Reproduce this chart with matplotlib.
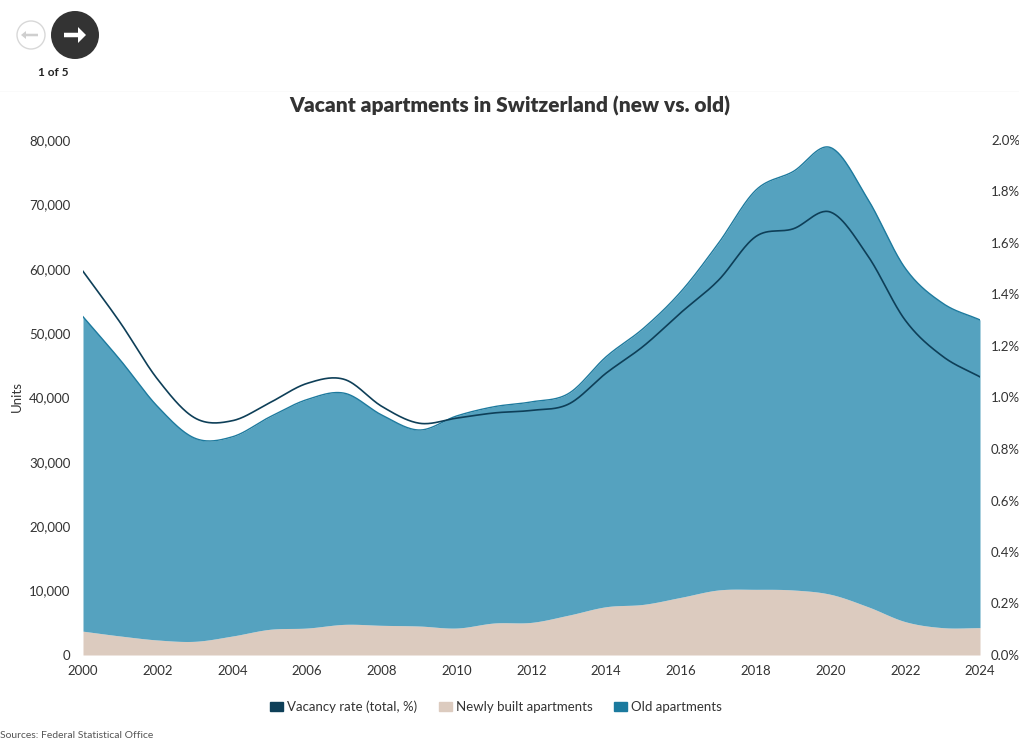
import numpy as np
import matplotlib
matplotlib.use("Agg")
import matplotlib.pyplot as plt
from matplotlib.patches import Circle, FancyArrow, Patch
from matplotlib.ticker import FuncFormatter

plt.rcParams['font.family'] = ['Lato', 'DejaVu Sans']

# Data (yearly values)
years = list(range(2000, 2025))
new_apts = [3700, 2950, 2330, 2130, 2950, 3990, 4190, 4760, 4610, 4500, 4190, 4970, 5070,
            6200, 7500, 7870, 8960, 10100, 10200, 10100, 9430, 7500, 5180, 4250, 4250]
old_apts = [48850, 42850, 36240, 31530, 30950, 33000, 35500, 35900, 32650, 30450, 32950, 33600, 34250,
            34450, 38850, 42900, 47500, 53850, 62000, 65000, 69400, 63300, 54900, 50400, 47800]
vacancy = [1.49, 1.29, 1.07, 0.92, 0.91, 0.98, 1.055, 1.07, 0.965, 0.90, 0.92, 0.94, 0.95,
           0.975, 1.095, 1.20, 1.33, 1.455, 1.625, 1.655, 1.72, 1.55, 1.30, 1.16, 1.08]

c_line = "#0e3f58"
c_new = "#dccbbf"
c_old = "#55a2bf"
c_text = "#333333"


# Catmull-Rom curve through the points, used only for drawing
def smooth(x, y, n=30):
    x = np.asarray(x, float)
    y = np.asarray(y, float)
    h = np.diff(x)
    m = np.zeros_like(y)
    m[1:-1] = (y[2:] - y[:-2]) / (x[2:] - x[:-2])
    m[0] = (y[1] - y[0]) / h[0]
    m[-1] = (y[-1] - y[-2]) / h[-1]
    xs, ys = [], []
    for k in range(len(x) - 1):
        t = np.linspace(0, 1, n, endpoint=False)
        h00 = 2 * t**3 - 3 * t**2 + 1
        h10 = t**3 - 2 * t**2 + t
        h01 = -2 * t**3 + 3 * t**2
        h11 = t**3 - t**2
        xs.append(x[k] + t * h[k])
        ys.append(h00 * y[k] + h10 * h[k] * m[k] + h01 * y[k + 1] + h11 * h[k] * m[k + 1])
    xs.append([x[-1]])
    ys.append([y[-1]])
    return np.concatenate(xs), np.concatenate(ys)


total = [a + b for a, b in zip(new_apts, old_apts)]
xn, yn = smooth(years, new_apts)
xt, yt = smooth(years, total)
xv, yv = smooth(years, vacancy)

fig = plt.figure(figsize=(10.2, 7.43), dpi=100)
ax = fig.add_axes([83 / 1020, 88 / 743, 897 / 1020, 515 / 743])

ax.fill_between(xn, 0, yn, color=c_new, lw=0)
ax.fill_between(xt, yn, yt, color=c_old, lw=0)
ax.plot(xt, yt, color="#1d7a9e", lw=1.0)

ax.set_xlim(2000, 2024)
ax.set_ylim(0, 80000)
ax.set_xticks(range(2000, 2025, 2))
ax.set_yticks(range(0, 80001, 10000))
ax.yaxis.set_major_formatter(FuncFormatter(lambda v, p: f"{int(v):,}"))
ax.tick_params(length=0, labelsize=9.5, colors=c_text, pad=7)
ax.tick_params(axis='y', pad=9)
for s in ax.spines.values():
    s.set_visible(False)

ax2 = ax.twinx()
ax2.plot(xv, yv, color=c_line, lw=1.2)
ax2.set_ylim(0, 2.0)
ax2.set_yticks(np.arange(0, 2.01, 0.2))
ax2.yaxis.set_major_formatter(FuncFormatter(lambda v, p: f"{v:.1f}%"))
ax2.tick_params(length=0, labelsize=9.5, colors=c_text, pad=8)
for s in ax2.spines.values():
    s.set_visible(False)

fig.text(17 / 1020, 1 - 397 / 743, "Units", rotation=90, ha='center', va='center',
         fontsize=9.5, color=c_text)

fig.text(0.5, 1 - 106 / 743, "Vacant apartments in Switzerland (new vs. old)", ha='center', va='center',
         fontsize=15, fontweight='heavy', color=c_text)

handles = [Patch(color=c_line), Patch(color=c_new), Patch(color="#1b7a9e")]
labels = ["Vacancy rate (total, %)", "Newly built apartments", "Old apartments"]
fig.legend(handles, labels, loc='center', bbox_to_anchor=(496 / 1020, 1 - 707 / 743), ncol=3,
           frameon=False, fontsize=9.5, handlelength=1.0, handleheight=0.7, handletextpad=0.3,
           columnspacing=1.6, labelcolor=c_text)

fig.text(0.0, 1 - 736 / 743, "Sources: Federal Statistical Office", ha='left', va='center',
         fontsize=7.5, color="#555555")

# navigation header
nav = fig.add_axes([0, 1 - 92 / 743, 1, 92 / 743])
nav.set_xlim(0, 1020)
nav.set_ylim(92, 0)
nav.axis('off')
nav.add_patch(Circle((31, 35), 14, facecolor='white', edgecolor='#d8d8d8', lw=1))
nav.add_patch(FancyArrow(38, 35, -12, 0, width=2.5, head_width=8, head_length=5, color='#cfcfcf', lw=0))
nav.add_patch(Circle((75, 35), 24, facecolor='#333333', edgecolor='none'))
nav.add_patch(FancyArrow(64, 35, 14, 0, width=4.5, head_width=16, head_length=8, color='white', lw=0))
nav.text(53, 73, "1 of 5", ha='center', va='center', fontsize=8.5, fontweight='bold', color='#222222')
nav.plot([0, 1020], [91.5, 91.5], color='#e6e6e6', lw=1)

fig.savefig("out.png", dpi=100)
